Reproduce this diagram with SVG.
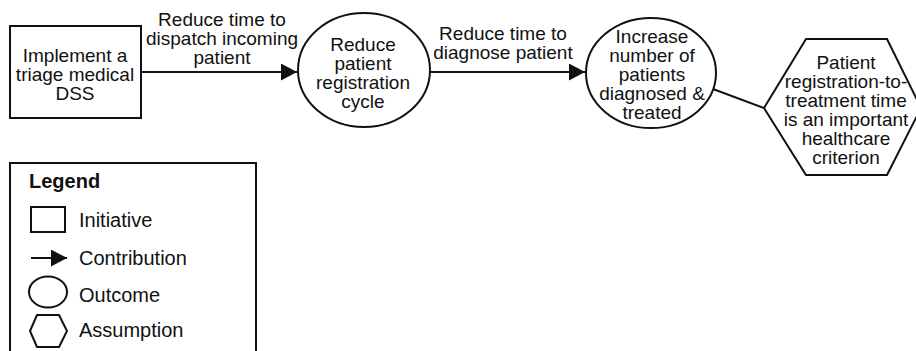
<svg xmlns="http://www.w3.org/2000/svg" width="916" height="351" viewBox="0 0 916 351">
<defs>
<style>
.s{fill:#fff;stroke:#111;stroke-width:2}
.c{fill:none;stroke:#111;stroke-width:2}
text{font-family:"Liberation Sans",Arial,sans-serif;font-size:19px;fill:#111;text-anchor:middle}
.l{font-size:20px;text-anchor:start}
.b{font-weight:bold}
</style>
<marker id="ah" markerUnits="userSpaceOnUse" markerWidth="16" markerHeight="17" refX="16" refY="8.5" orient="auto">
<path d="M0,0 L16,8.5 L0,17 Z" fill="#111"/>
</marker>
</defs>
<rect width="916" height="351" fill="#fff"/>
<g id="connectors">
<line class="c" x1="141" y1="72" x2="297" y2="72" marker-end="url(#ah)"/>
<text x="222" y="26">Reduce time to</text>
<text x="222" y="45">dispatch incoming</text>
<text x="222" y="64">patient</text>
<line class="c" x1="430" y1="72" x2="585" y2="72" marker-end="url(#ah)"/>
<text x="503" y="40">Reduce time to</text>
<text x="503" y="59">diagnose patient</text>
<line class="c" x1="713" y1="89" x2="764" y2="108"/>
</g>
<g id="initiative">
<rect class="s" x="10" y="26" width="131" height="92"/>
<text x="75" y="62">Implement a</text>
<text x="75" y="81">triage medical</text>
<text x="75" y="100">DSS</text>
</g>
<g id="outcome1">
<ellipse class="s" cx="364" cy="70" rx="66" ry="57"/>
<text x="363" y="51">Reduce</text>
<text x="363" y="70">patient</text>
<text x="363" y="89">registration</text>
<text x="363" y="108">cycle</text>
</g>
<g id="outcome2">
<ellipse class="s" cx="651" cy="73" rx="65" ry="55"/>
<text x="652" y="43">Increase</text>
<text x="652" y="62">number of</text>
<text x="652" y="81">patients</text>
<text x="652" y="100">diagnosed &amp;</text>
<text x="652" y="119">treated</text>
</g>
<g id="assumption">
<polygon class="s" points="764,108 806,39 887,39 921,108 887,175 806,175"/>
<text x="846" y="69">Patient</text>
<text x="846" y="88">registration-to-</text>
<text x="846" y="107">treatment time</text>
<text x="846" y="126">is an important</text>
<text x="846" y="145">healthcare</text>
<text x="846" y="164">criterion</text>
</g>
<g id="legend">
<rect class="s" x="10" y="163" width="246" height="200"/>
<text class="l b" x="29" y="188">Legend</text>
<rect class="s" x="31" y="207" width="34" height="25"/>
<text class="l" x="79" y="227">Initiative</text>
<line class="c" x1="31" y1="258" x2="67" y2="258" marker-end="url(#ah)"/>
<text class="l" x="79" y="265">Contribution</text>
<ellipse class="s" cx="48" cy="292" rx="19" ry="15.5"/>
<text class="l" x="79" y="302">Outcome</text>
<polygon class="s" points="30,331 37,315 59,315 67,331 59,347 37,347"/>
<text class="l" x="79" y="337">Assumption</text>
</g>
</svg>
